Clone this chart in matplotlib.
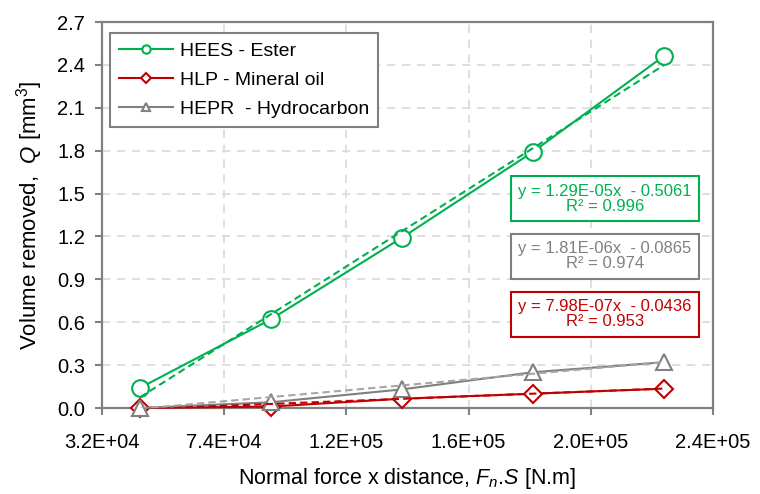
import numpy as np
import matplotlib
matplotlib.use('Agg')
import matplotlib.pyplot as plt
from matplotlib.lines import Line2D

plt.rcParams['font.family'] = ['Liberation Sans', 'DejaVu Sans']
plt.rcParams['mathtext.fontset'] = 'custom'
plt.rcParams['mathtext.it'] = 'Liberation Sans:italic'
plt.rcParams['mathtext.rm'] = 'Liberation Sans'

# Data
fs = [45000, 90000, 135000, 180000, 225000]
hees = [0.14, 0.62, 1.19, 1.79, 2.46]
hlp = [0.00, 0.01, 0.065, 0.10, 0.135]
hepr = [0.00, 0.04, 0.13, 0.25, 0.32]

# trendline coefficients (slope, intercept) from the chart labels
fit_hees = (1.29e-05, -0.5061)
fit_hlp = (7.98e-07, -0.0436)
fit_hepr = (1.81e-06, -0.0865)

x_ticks = [32000, 74000, 116000, 158000, 200000, 242000]
x_labels = ['3.2E+04', '7.4E+04', '1.2E+05', '1.6E+05', '2.0E+05', '2.4E+05']
y_ticks = [0.0, 0.3, 0.6, 0.9, 1.2, 1.5, 1.8, 2.1, 2.4, 2.7]

green = '#00B050'
red = '#C00000'
gray = '#808080'
gray_fit = '#A6A6A6'

fig = plt.figure(figsize=(7.6, 4.94), dpi=100)
ax = fig.add_axes([102/760, 1 - 408/494, (713-102)/760, (408-22)/494])

series = [
    (hees, fit_hees, green, green, 'o', 12),
    (hlp, fit_hlp, red, red, 'D', 9),
    (hepr, fit_hepr, gray, gray_fit, '^', 12),
]
for vals, (m, b), col, fcol, mk, ms in series:
    ax.plot(fs, vals, color=col, lw=1.5, marker=mk, markersize=ms,
            markerfacecolor='white', markeredgecolor=col, markeredgewidth=1.5,
            zorder=3, clip_on=False)
    xf = np.array([fs[0], fs[-1]])
    ax.plot(xf, m * xf + b, color=fcol, lw=1.5, ls=(0, (3.5, 2)), zorder=4)

ax.set_xlim(32000, 242000)
ax.set_ylim(0, 2.7)
ax.set_xticks(x_ticks)
ax.set_xticklabels(x_labels)
ax.set_yticks(y_ticks)
ax.set_yticklabels([f'{v:.1f}' for v in y_ticks])
ax.tick_params(labelsize=14.5, colors=gray, labelcolor='black', length=5, width=1.5)
ax.tick_params(axis='x', pad=13)
ax.tick_params(axis='y', pad=7)
ax.grid(True, color='#D9D9D9', ls=(0, (5, 4)), lw=1.2)
ax.set_axisbelow(True)
for s in ax.spines.values():
    s.set_color(gray)
    s.set_linewidth(1.6)

ax.set_xlabel(r'Normal force x distance, $F_n$.$S$ [N.m]', fontsize=15.5, labelpad=10)
ax.set_ylabel(r'Volume removed,  $Q$ [mm$^3$]', fontsize=16, labelpad=9)

handles = [
    Line2D([], [], color=green, lw=1.5, marker='o', markersize=6, markerfacecolor='white', markeredgewidth=1.5),
    Line2D([], [], color=red, lw=1.5, marker='D', markersize=5, markerfacecolor='white', markeredgewidth=1.5),
    Line2D([], [], color=gray, lw=1.5, marker='^', markersize=6, markerfacecolor='white', markeredgewidth=1.5),
]
leg = ax.legend(handles, ['HEES - Ester', 'HLP - Mineral oil', 'HEPR  - Hydrocarbon'],
                loc='upper left', bbox_to_anchor=(0.013, 0.971), fontsize=14,
                handlelength=2.8, fancybox=False, framealpha=1, borderpad=0.45,
                labelspacing=0.6, handletextpad=0.36, borderaxespad=0)
leg.get_frame().set_edgecolor(gray)
leg.get_frame().set_linewidth(1.5)

boxes = [
    ('y = 1.29E-05x  - 0.5061\nR² = 0.996', green, 199),
    ('y = 1.81E-06x  - 0.0865\nR² = 0.974', gray, 256),
    ('y = 7.98E-07x  - 0.0436\nR² = 0.953', red, 314),
]
for txt, col, ypix in boxes:
    fig.text(605/760, 1 - ypix/494, txt, color=col, fontsize=12, ha='center', va='center',
             linespacing=1.0,
             bbox=dict(boxstyle='square,pad=0.45', facecolor='white', edgecolor=col, lw=1.5))

fig.savefig('out.png', dpi=100)
